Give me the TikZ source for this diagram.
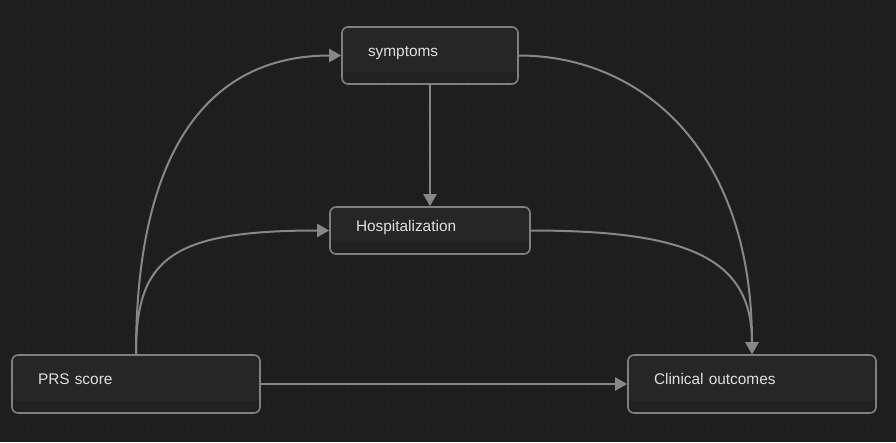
\documentclass[tikz,border=0pt]{standalone}
\usepackage{fontspec}
\setmainfont{Liberation Sans}
\usetikzlibrary{arrows.meta}

\definecolor{canvas}{HTML}{1E1E1E}
\definecolor{griddot}{HTML}{2E2E2E}
\definecolor{boxfill}{HTML}{262626}
\definecolor{boxshade}{HTML}{212121}
\definecolor{boxline}{HTML}{808080}
\definecolor{edgeline}{HTML}{878787}
\definecolor{boxtext}{HTML}{E0E0E0}

\begin{document}
\begin{tikzpicture}[
    x=1pt, y=-1pt,
    box/.style={rectangle, draw=boxline, line width=1.6pt, rounded corners=6pt, fill=boxshade,
        inner xsep=26pt, inner ysep=0pt, align=left, text=boxtext,
        font=\fontsize{15.4}{18}\selectfont, text height=11pt, text depth=10pt,
        path picture={\fill[boxfill] (path picture bounding box.north west) rectangle ([yshift=12pt]path picture bounding box.south east);}},
    arrow/.style={-{Triangle[length=12pt, width=13pt]}, line width=2pt, color=edgeline},
]
    % Canvas with dot grid
    \fill[canvas] (0,0) rectangle (896,442);
    \foreach \x in {8,28,...,888}
        \foreach \y in {6,26,...,438}
            \fill[griddot] (\x,\y) circle (0.9pt);

    % Nodes
    \node[box, text width=124pt, minimum height=57pt] (symptoms) at (430,55.5) {symptoms};
    \node[box, text width=148pt, minimum height=47pt] (hosp) at (430,230.5) {Hospitalization};
    \node[box, text width=196pt, minimum height=58pt] (prs) at (136,384) {PRS score};
    \node[box, text width=196pt, minimum height=58pt] (outcomes) at (752,384) {Clinical outcomes};

    % Connections
    \draw[arrow] (prs.north) .. controls +(0,-205) and +(-132,0) .. (symptoms.west);
    \draw[arrow] (prs.north) .. controls +(0,-95) and +(-160,0) .. (hosp.west);
    \draw[arrow] (symptoms) -- (hosp);
    \draw[arrow] (symptoms.east) .. controls +(122,0) and +(0,-205) .. (outcomes.north);
    \draw[arrow] (hosp.east) .. controls +(160,0) and +(0,-95) .. (outcomes.north);
    \draw[arrow] (prs) -- (outcomes);
\end{tikzpicture}
\end{document}
